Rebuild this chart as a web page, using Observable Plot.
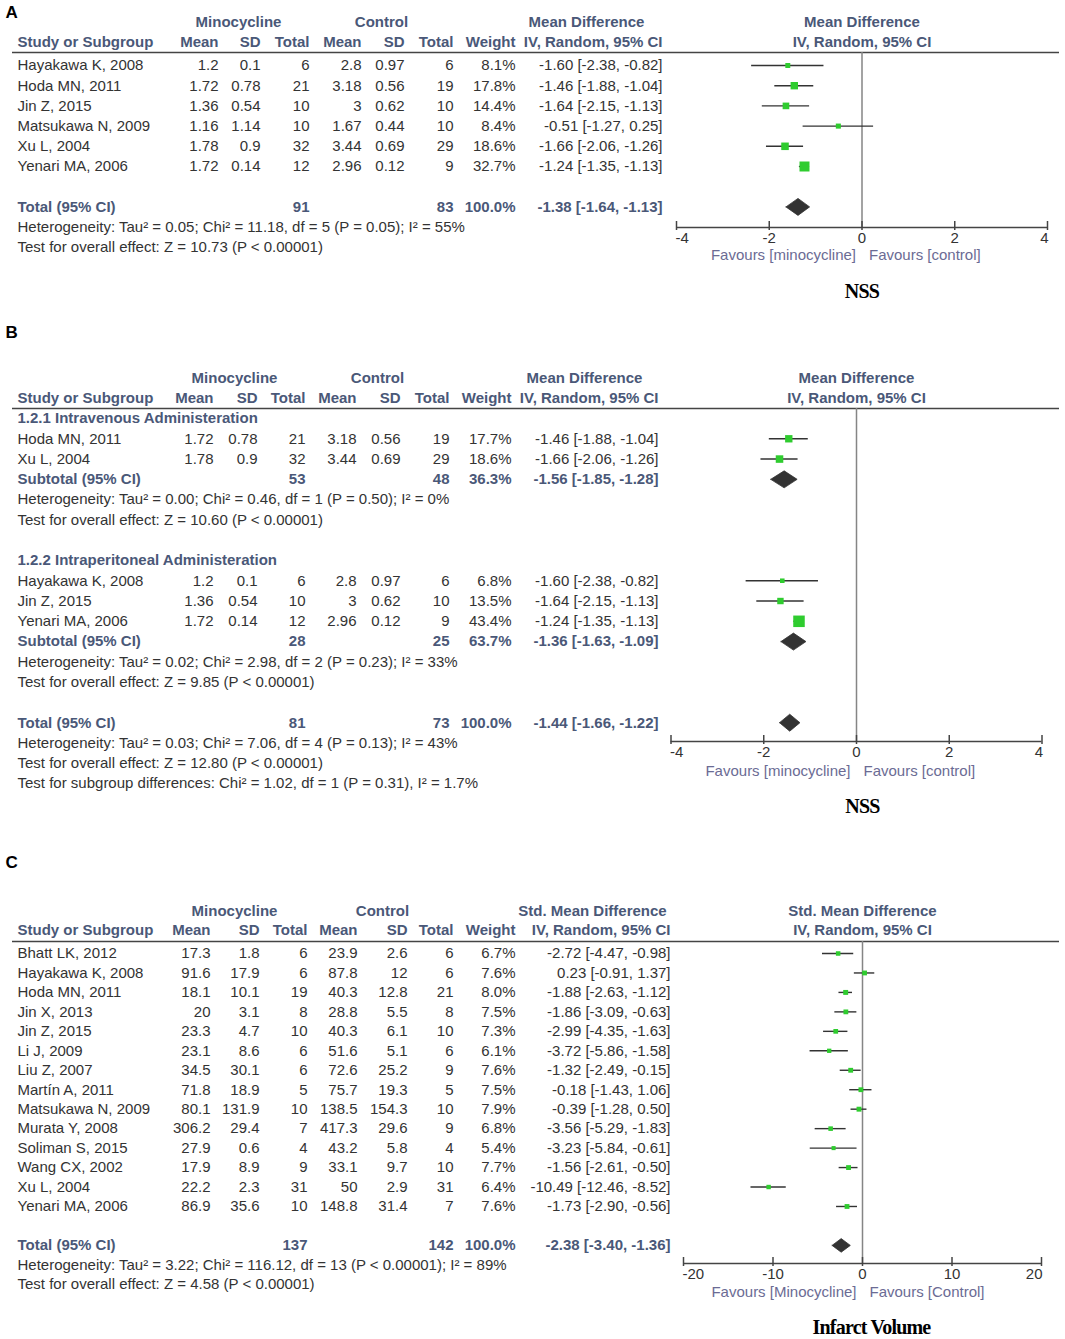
<!DOCTYPE html>
<html><head><meta charset="utf-8">
<script src="https://cdn.jsdelivr.net/npm/d3@7"></script>
<script src="https://cdn.jsdelivr.net/npm/@observablehq/plot@0.6"></script>
<style>
body{margin:0;background:#fff;}
#fig{position:relative;width:1065px;height:1339px;overflow:hidden;background:#fff;}
#fig svg{position:absolute;left:0;}
</style></head><body><div id="fig"></div>
<script>
// ---------------- Panel A data (NSS) ----------------
const studiesA   = ["Hayakawa K, 2008","Hoda MN, 2011","Jin Z, 2015","Matsukawa N, 2009","Xu L, 2004","Yenari MA, 2006"];
const minoMeanA  = [1.2, 1.72, 1.36, 1.16, 1.78, 1.72];
const minoSDA    = [0.1, 0.78, 0.54, 1.14, 0.9, 0.14];
const minoNA     = [6, 21, 10, 10, 32, 12];
const ctrlMeanA  = [2.8, 3.18, 3, 1.67, 3.44, 2.96];
const ctrlSDA    = [0.97, 0.56, 0.62, 0.44, 0.69, 0.12];
const ctrlNA     = [6, 19, 10, 10, 29, 9];
const weightA    = [8.1, 17.8, 14.4, 8.4, 18.6, 32.7];
const mdA        = [-1.60, -1.46, -1.64, -0.51, -1.66, -1.24];
const loA        = [-2.38, -1.88, -2.15, -1.27, -2.06, -1.35];
const hiA        = [-0.82, -1.04, -1.13, 0.25, -1.26, -1.13];
const totalA     = {mN: 91, cN: 83, weight: 100.0, md: -1.38, lo: -1.64, hi: -1.13};
const notesA     = ["Heterogeneity: Tau² = 0.05; Chi² = 11.18, df = 5 (P = 0.05); I² = 55%",
                    "Test for overall effect: Z = 10.73 (P < 0.00001)"];

// ---------------- Panel B data (NSS by route) ----------------
const subgroupB1 = "1.2.1 Intravenous Administeration";
const studiesB1  = ["Hoda MN, 2011","Xu L, 2004"];
const minoMeanB1 = [1.72, 1.78];
const minoSDB1   = [0.78, 0.9];
const minoNB1    = [21, 32];
const ctrlMeanB1 = [3.18, 3.44];
const ctrlSDB1   = [0.56, 0.69];
const ctrlNB1    = [19, 29];
const weightB1   = [17.7, 18.6];
const mdB1       = [-1.46, -1.66];
const loB1       = [-1.88, -2.06];
const hiB1       = [-1.04, -1.26];
const subtotalB1 = {mN: 53, cN: 48, weight: 36.3, md: -1.56, lo: -1.85, hi: -1.28};
const notesB1    = ["Heterogeneity: Tau² = 0.00; Chi² = 0.46, df = 1 (P = 0.50); I² = 0%",
                    "Test for overall effect: Z = 10.60 (P < 0.00001)"];

const subgroupB2 = "1.2.2 Intraperitoneal Administeration";
const studiesB2  = ["Hayakawa K, 2008","Jin Z, 2015","Yenari MA, 2006"];
const minoMeanB2 = [1.2, 1.36, 1.72];
const minoSDB2   = [0.1, 0.54, 0.14];
const minoNB2    = [6, 10, 12];
const ctrlMeanB2 = [2.8, 3, 2.96];
const ctrlSDB2   = [0.97, 0.62, 0.12];
const ctrlNB2    = [6, 10, 9];
const weightB2   = [6.8, 13.5, 43.4];
const mdB2       = [-1.60, -1.64, -1.24];
const loB2       = [-2.38, -2.15, -1.35];
const hiB2       = [-0.82, -1.13, -1.13];
const subtotalB2 = {mN: 28, cN: 25, weight: 63.7, md: -1.36, lo: -1.63, hi: -1.09};
const notesB2    = ["Heterogeneity: Tau² = 0.02; Chi² = 2.98, df = 2 (P = 0.23); I² = 33%",
                    "Test for overall effect: Z = 9.85 (P < 0.00001)"];
const totalB     = {mN: 81, cN: 73, weight: 100.0, md: -1.44, lo: -1.66, hi: -1.22};
const notesB     = ["Heterogeneity: Tau² = 0.03; Chi² = 7.06, df = 4 (P = 0.13); I² = 43%",
                    "Test for overall effect: Z = 12.80 (P < 0.00001)",
                    "Test for subgroup differences: Chi² = 1.02, df = 1 (P = 0.31), I² = 1.7%"];

// ---------------- Panel C data (Infarct volume) ----------------
const studiesC   = ["Bhatt LK, 2012","Hayakawa K, 2008","Hoda MN, 2011","Jin X, 2013","Jin Z, 2015","Li J, 2009","Liu Z, 2007","Martín A, 2011","Matsukawa N, 2009","Murata Y, 2008","Soliman S, 2015","Wang CX, 2002","Xu L, 2004","Yenari MA, 2006"];
const minoMeanC  = [17.3, 91.6, 18.1, 20, 23.3, 23.1, 34.5, 71.8, 80.1, 306.2, 27.9, 17.9, 22.2, 86.9];
const minoSDC    = [1.8, 17.9, 10.1, 3.1, 4.7, 8.6, 30.1, 18.9, 131.9, 29.4, 0.6, 8.9, 2.3, 35.6];
const minoNC     = [6, 6, 19, 8, 10, 6, 6, 5, 10, 7, 4, 9, 31, 10];
const ctrlMeanC  = [23.9, 87.8, 40.3, 28.8, 40.3, 51.6, 72.6, 75.7, 138.5, 417.3, 43.2, 33.1, 50, 148.8];
const ctrlSDC    = [2.6, 12, 12.8, 5.5, 6.1, 5.1, 25.2, 19.3, 154.3, 29.6, 5.8, 9.7, 2.9, 31.4];
const ctrlNC     = [6, 6, 21, 8, 10, 6, 9, 5, 10, 9, 4, 10, 31, 7];
const weightC    = [6.7, 7.6, 8.0, 7.5, 7.3, 6.1, 7.6, 7.5, 7.9, 6.8, 5.4, 7.7, 6.4, 7.6];
const smdC       = [-2.72, 0.23, -1.88, -1.86, -2.99, -3.72, -1.32, -0.18, -0.39, -3.56, -3.23, -1.56, -10.49, -1.73];
const loC        = [-4.47, -0.91, -2.63, -3.09, -4.35, -5.86, -2.49, -1.43, -1.28, -5.29, -5.84, -2.61, -12.46, -2.90];
const hiC        = [-0.98, 1.37, -1.12, -0.63, -1.63, -1.58, -0.15, 1.06, 0.50, -1.83, -0.61, -0.50, -8.52, -0.56];
const totalC     = {mN: 137, cN: 142, weight: 100.0, md: -2.38, lo: -3.40, hi: -1.36};
const notesC     = ["Heterogeneity: Tau² = 3.22; Chi² = 116.12, df = 13 (P < 0.00001); I² = 89%",
                    "Test for overall effect: Z = 4.58 (P < 0.00001)"];

const ticksMD  = [-4, -2, 0, 2, 4];
const ticksSMD = [-20, -10, 0, 10, 20];

// ---------------- styling ----------------
const FONT = "'Liberation Sans', Arial, Helvetica, sans-serif";
const HEAD = "#4a5878";
const INK = "#333333";
const GREEN = "#2fcc2f";
const DARK = "#333333";
const FAV = "#6b6b94";
const WEIGHT_REF = 43.4; // largest weight in the figure, for square sizes

const ci = (m, l, h) => `${m.toFixed(2)} [${l.toFixed(2)}, ${h.toFixed(2)}]`;
const pct = w => w.toFixed(1) + "%";

function makeStudies(names, mm, ms, mn, cm, cs, cn, w, md, lo, hi) {
  return names.map((name, i) => ({
    kind: "study", name,
    mMean: String(mm[i]), mSD: String(ms[i]), mN: String(mn[i]),
    cMean: String(cm[i]), cSD: String(cs[i]), cN: String(cn[i]),
    weight: w[i], wTxt: pct(w[i]), md: md[i], lo: lo[i], hi: hi[i], ciTxt: ci(md[i], lo[i], hi[i])
  }));
}
function summary(label, t) {
  return {kind: "summary", name: label, mN: String(t.mN), cN: String(t.cN),
          wTxt: pct(t.weight), md: t.md, lo: t.lo, hi: t.hi, ciTxt: ci(t.md, t.lo, t.hi)};
}
const note = s => ({kind: "note", name: s});
const blank = () => ({kind: "blank"});
const subhead = s => ({kind: "subhead", name: s});

const rowsA = [
  ...makeStudies(studiesA, minoMeanA, minoSDA, minoNA, ctrlMeanA, ctrlSDA, ctrlNA, weightA, mdA, loA, hiA),
  blank(), summary("Total (95% CI)", totalA), ...notesA.map(note)
];
const rowsB = [
  subhead(subgroupB1),
  ...makeStudies(studiesB1, minoMeanB1, minoSDB1, minoNB1, ctrlMeanB1, ctrlSDB1, ctrlNB1, weightB1, mdB1, loB1, hiB1),
  summary("Subtotal (95% CI)", subtotalB1), ...notesB1.map(note), blank(),
  subhead(subgroupB2),
  ...makeStudies(studiesB2, minoMeanB2, minoSDB2, minoNB2, ctrlMeanB2, ctrlSDB2, ctrlNB2, weightB2, mdB2, loB2, hiB2),
  summary("Subtotal (95% CI)", subtotalB2), ...notesB2.map(note), blank(),
  summary("Total (95% CI)", totalB), ...notesB.map(note)
];
const rowsC = [
  ...makeStudies(studiesC, minoMeanC, minoSDC, minoNC, ctrlMeanC, ctrlSDC, ctrlNC, weightC, smdC, loC, hiC),
  blank(), summary("Total (95% CI)", totalC), ...notesC.map(note)
];

function panel(cfg) {
  const R = px => (px - cfg.y0) / cfg.step;   // layout pixel -> row units
  const rows = cfg.rows.map((d, i) => ({...d, row: i}));
  const studies = rows.filter(d => d.kind === "study");
  const sums = rows.filter(d => d.kind === "summary");
  const normal = rows.filter(d => d.kind === "study" || d.kind === "note");
  const bold = rows.filter(d => d.kind === "summary" || d.kind === "subhead");
  const C = cfg.cols;
  const col = (data, key, pos, anchor, extra = {}) =>
    Plot.text(data.filter(d => d[key] != null), {y: "row", text: key, frameAnchor: "left", dx: pos,
      textAnchor: anchor, lineAnchor: "middle", ...extra});
  const nStyle = {fill: INK};
  const bStyle = {fill: HEAD, fontWeight: "bold"};
  const tableMarks = [];
  for (const [data, st] of [[normal, nStyle], [bold, bStyle]]) {
    tableMarks.push(
      col(data, "name", C.name, "start", st),
      col(data, "mMean", C.mMean, "end", st), col(data, "mSD", C.mSD, "end", st), col(data, "mN", C.mN, "end", st),
      col(data, "cMean", C.cMean, "end", st), col(data, "cSD", C.cSD, "end", st), col(data, "cN", C.cN, "end", st),
      col(data, "wTxt", C.weight, "end", st), col(data, "ciTxt", C.ci, "end", st)
    );
  }
  const hdr = (s, px, anchor, yy) => Plot.text([s], {y: R(yy), frameAnchor: "left", dx: px, textAnchor: anchor,
    lineAnchor: "middle", fill: HEAD, fontWeight: "bold"});
  const half = cfg.diamondHalf / cfg.step;
  const diamonds = sums.flatMap(d => [
    {id: d.row, x: d.lo, y: d.row}, {id: d.row, x: d.md, y: d.row - half},
    {id: d.row, x: d.hi, y: d.row}, {id: d.row, x: d.md, y: d.row + half}, {id: d.row, x: d.lo, y: d.row}
  ]);
  const [x0, x1] = cfg.xDomain;
  const axisR = R(cfg.axisY);
  const tk = cfg.ticks;
  const tickLbl = {y: axisR, dy: 11, text: d => String(d), fill: INK};
  const svg = Plot.plot({
    width: 1065, height: cfg.height, margin: 0,
    style: {fontFamily: FONT, fontSize: "15px", background: "#fff"},
    x: {domain: cfg.xDomain, range: cfg.xRange, axis: null},
    y: {domain: [0, 1], range: [cfg.y0, cfg.y0 + cfg.step], axis: null},
    r: {domain: [0, WEIGHT_REF], range: [0, 6.5]},
    marks: [
      Plot.text([cfg.letter], {y: R(12), frameAnchor: "left", dx: 5, textAnchor: "start", lineAnchor: "middle",
        fontWeight: "bold", fontSize: 17, fill: "#000"}),
      // headers
      hdr("Minocycline", cfg.hdr.mino, "middle", cfg.hdr1Y),
      hdr("Control", cfg.hdr.ctrl, "middle", cfg.hdr1Y),
      hdr(cfg.effect, cfg.hdr.eff, "middle", cfg.hdr1Y),
      hdr("Study or Subgroup", C.name, "start", cfg.hdr2Y),
      hdr("Mean", C.mMean, "end", cfg.hdr2Y), hdr("SD", C.mSD, "end", cfg.hdr2Y), hdr("Total", C.mN, "end", cfg.hdr2Y),
      hdr("Mean", C.cMean, "end", cfg.hdr2Y), hdr("SD", C.cSD, "end", cfg.hdr2Y), hdr("Total", C.cN, "end", cfg.hdr2Y),
      hdr("Weight", C.weight, "end", cfg.hdr2Y), hdr("IV, Random, 95% CI", C.ci, "end", cfg.hdr2Y),
      Plot.text([cfg.effect], {x: 0, y: R(cfg.hdr1Y), textAnchor: "middle", fill: HEAD, fontWeight: "bold"}),
      Plot.text(["IV, Random, 95% CI"], {x: 0, y: R(cfg.hdr2Y), textAnchor: "middle", fill: HEAD, fontWeight: "bold"}),
      Plot.ruleY([R(cfg.ruleY)], {stroke: "#444", strokeWidth: 1.5, insetLeft: 12, insetRight: 6}),
      ...tableMarks,
      // forest plot
      Plot.ruleX([0], {y1: R(cfg.ruleY), y2: axisR, stroke: "#858585", strokeWidth: 1.5}),
      Plot.ruleY(studies, {x1: "lo", x2: "hi", y: "row", stroke: DARK, strokeWidth: 1.4}),
      Plot.dot(studies, {x: "md", y: "row", r: "weight", symbol: "square", fill: GREEN}),
      Plot.line(diamonds, {x: "x", y: "y", z: "id", fill: DARK, stroke: DARK, strokeWidth: 0.8}),
      Plot.ruleY([axisR], {x1: x0, x2: x1, stroke: "#444", strokeWidth: 1.5}),
      Plot.ruleX(tk, {x: d => d, y1: R(cfg.axisY - 6), y2: R(cfg.axisY + 3), stroke: "#444", strokeWidth: 1.5}),
      Plot.text(tk.slice(0, 1), {x: d => d, ...tickLbl, textAnchor: "start", dx: -1}),
      Plot.text(tk.slice(1, -1), {x: d => d, ...tickLbl, textAnchor: "middle"}),
      Plot.text(tk.slice(-1), {x: d => d, ...tickLbl, textAnchor: "end", dx: 1}),
      Plot.text([cfg.favL], {x: 0, y: R(cfg.favY), dx: -6, textAnchor: "end", fill: FAV}),
      Plot.text([cfg.favR], {x: 0, y: R(cfg.favY), dx: 7, textAnchor: "start", fill: FAV}),
      Plot.text([cfg.title], {x: 0, y: R(cfg.titleY), dx: cfg.titleDx, textAnchor: "middle",
        fontFamily: "'Liberation Serif', 'Times New Roman', serif", fontWeight: "bold", fontSize: 20, fill: "#000"})
    ]
  });
  d3.select(svg).selectAll("text").filter(function () { return this.textContent === cfg.title; })
    .attr("letter-spacing", "-0.8px");
  svg.style.top = cfg.top + "px";
  document.getElementById("fig").appendChild(svg);
}

panel({
  letter: "A", rows: rowsA, top: 0, height: 320, y0: 65, step: 20.2, ruleY: 52, hdr1Y: 22, hdr2Y: 42,
  axisY: 227, favY: 255, titleY: 291, xDomain: [-4, 4], xRange: [676, 1047], ticks: ticksMD, diamondHalf: 8.5,
  cols: {name: 17, mMean: 218, mSD: 260, mN: 309, cMean: 361, cSD: 404, cN: 453, weight: 515, ci: 662},
  hdr: {mino: 238, ctrl: 381, eff: 586}, effect: "Mean Difference",
  favL: "Favours [minocycline]", favR: "Favours [control]", title: "NSS", titleDx: 0
});
panel({
  letter: "B", rows: rowsB, top: 320, height: 530, y0: 98, step: 20.28, ruleY: 88, hdr1Y: 58, hdr2Y: 78,
  axisY: 421, favY: 451, titleY: 486, xDomain: [-4, 4], xRange: [670.5, 1041.5], ticks: ticksMD, diamondHalf: 8.5,
  cols: {name: 17, mMean: 213, mSD: 257, mN: 305, cMean: 356, cSD: 400, cN: 449, weight: 511, ci: 658},
  hdr: {mino: 234, ctrl: 377, eff: 584}, effect: "Mean Difference",
  favL: "Favours [minocycline]", favR: "Favours [control]", title: "NSS", titleDx: 6
});
panel({
  letter: "C", rows: rowsC, top: 850, height: 489, y0: 103, step: 19.46, ruleY: 91, hdr1Y: 61, hdr2Y: 80,
  axisY: 413, favY: 442, titleY: 477, xDomain: [-20, 20], xRange: [683, 1041], ticks: ticksSMD, diamondHalf: 6.8,
  cols: {name: 17, mMean: 210, mSD: 259, mN: 307, cMean: 357, cSD: 407, cN: 453, weight: 515, ci: 670},
  hdr: {mino: 234, ctrl: 382, eff: 592}, effect: "Std. Mean Difference",
  favL: "Favours [Minocycline]", favR: "Favours [Control]", title: "Infarct Volume", titleDx: 9
});
</script></body></html>
